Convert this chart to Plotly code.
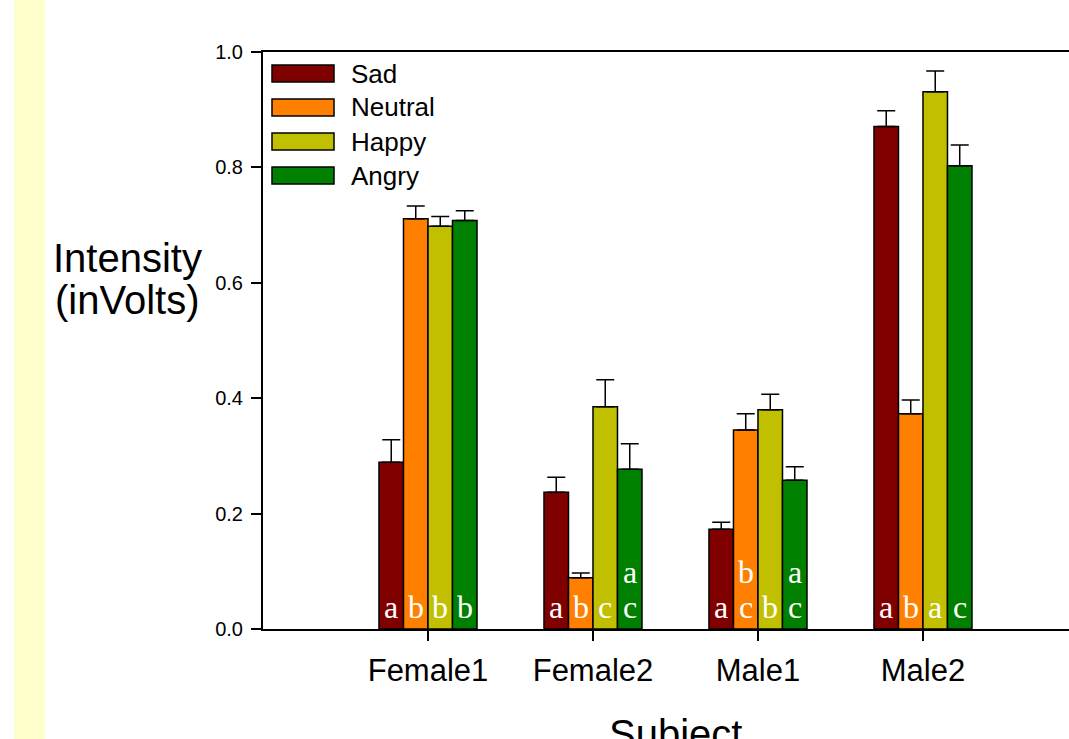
import plotly.graph_objects as go

subjects = ["Female1", "Female2", "Male1", "Male2"]
series_names = ["Sad", "Neutral", "Happy", "Angry"]
series_colors = ["#800000", "#FF8000", "#C0C000", "#008000"]

sad_mean = [0.289, 0.237, 0.173, 0.871]
sad_err = [0.039, 0.026, 0.012, 0.027]
neutral_mean = [0.711, 0.089, 0.345, 0.373]
neutral_err = [0.022, 0.008, 0.028, 0.024]
happy_mean = [0.698, 0.385, 0.380, 0.931]
happy_err = [0.017, 0.047, 0.027, 0.036]
angry_mean = [0.708, 0.277, 0.258, 0.803]
angry_err = [0.017, 0.044, 0.023, 0.036]

# significance letters (lower row / upper row), per series, per subject
sad_letters = ["a", "a", "a", "a"]
neutral_letters = ["b", "b", "c", "b"]
happy_letters = ["b", "c", "b", "a"]
angry_letters = ["b", "c", "c", "c"]
sad_letters_up = ["", "", "", ""]
neutral_letters_up = ["", "", "b", ""]
happy_letters_up = ["", "", "", ""]
angry_letters_up = ["", "a", "a", ""]

y_ticks = [0.0, 0.2, 0.4, 0.6, 0.8, 1.0]

means = [sad_mean, neutral_mean, happy_mean, angry_mean]
errs = [sad_err, neutral_err, happy_err, angry_err]
letters_low = [sad_letters, neutral_letters, happy_letters, angry_letters]
letters_up = [sad_letters_up, neutral_letters_up, happy_letters_up, angry_letters_up]

W, H = 1069, 739
L, R, T, B = 263, 0, 52, 110
PW = W - L - R
PH = H - T - B

def px(x):
    # x given in screen pixels
    return (x - L) / PW

def py(y):
    return (H - B - y) / PH

group_width = 0.594
bw = group_width / 4

fig = go.Figure()
for k, name in enumerate(series_names):
    fig.add_trace(go.Bar(
        x=subjects, y=means[k], name=name,
        marker=dict(color=series_colors[k], line=dict(color="black", width=1.5)),
        error_y=dict(type="data", array=errs[k], arrayminus=[0] * len(subjects),
                     symmetric=False, color="black", thickness=1.5, width=9),
        showlegend=False,
    ))

serif = "Liberation Serif, Times New Roman, serif"
sans = "Liberation Sans, Arial, sans-serif"

annotations = []
for k in range(4):
    for i in range(len(subjects)):
        xc = i + (k - 1.5) * bw
        if letters_low[k][i]:
            annotations.append(dict(x=xc, y=0, xref="x", yref="y", text=letters_low[k][i],
                                    showarrow=False, yanchor="bottom", yshift=2,
                                    font=dict(family=serif, size=32, color="white")))
        if letters_up[k][i]:
            annotations.append(dict(x=xc, y=0, xref="x", yref="y", text=letters_up[k][i],
                                    showarrow=False, yanchor="bottom", yshift=37,
                                    font=dict(family=serif, size=32, color="white")))

# manual legend
shapes = []
for k, name in enumerate(series_names):
    top = 65 + 34 * k
    shapes.append(dict(type="rect", xref="paper", yref="paper",
                       x0=px(272), x1=px(334), y0=py(top + 17), y1=py(top),
                       fillcolor=series_colors[k], line=dict(color="black", width=1.5)))
    annotations.append(dict(x=px(349), y=py(top + 8.5), xref="paper", yref="paper", text=name,
                            showarrow=False, xanchor="left", yanchor="middle",
                            font=dict(family=sans, size=26, color="black")))

# left yellow strip
shapes.append(dict(type="rect", xref="paper", yref="paper", layer="below",
                   x0=px(14), x1=px(45), y0=py(760), y1=py(-5),
                   fillcolor="#FFFFCC", line=dict(width=0)))

# axis titles
annotations.append(dict(x=px(127.5), y=py(258), xref="paper", yref="paper", text="Intensity",
                        showarrow=False, xanchor="center", yanchor="middle",
                        font=dict(family=sans, size=40, color="black")))
annotations.append(dict(x=px(127.5), y=py(300), xref="paper", yref="paper", text="(inVolts)",
                        showarrow=False, xanchor="center", yanchor="middle",
                        font=dict(family=sans, size=40, color="black")))
annotations.append(dict(x=px(675), y=py(710), xref="paper", yref="paper", text="Subject",
                        showarrow=False, xanchor="center", yanchor="top",
                        font=dict(family=sans, size=40, color="black")))

fig.update_layout(
    width=W, height=H, autosize=False,
    margin=dict(l=L, r=R, t=T, b=B, pad=0),
    paper_bgcolor="white", plot_bgcolor="white",
    barmode="group", bargap=1 - group_width, bargroupgap=0,
    shapes=shapes, annotations=annotations,
    font=dict(family=sans, color="black"),
    xaxis=dict(type="category", range=[-1, 3.885], showline=True, linecolor="black", linewidth=2,
               mirror=True, ticks="outside", ticklen=10, tickwidth=1.5, tickcolor="black",
               showgrid=False, zeroline=False, tickfont=dict(size=31), ticklabelstandoff=3),
    yaxis=dict(range=[0, 1], tickvals=y_ticks, tickformat=".1f", showline=True, linecolor="black",
               linewidth=2, ticks="outside", ticklen=10, tickwidth=1.5, tickcolor="black",
               showgrid=False, zeroline=False, tickfont=dict(size=20), ticklabelstandoff=4),
)

fig.write_html("out.html", config={"displayModeBar": False},
               post_script="document.body.style.margin='0px';document.body.style.overflow='hidden';")
